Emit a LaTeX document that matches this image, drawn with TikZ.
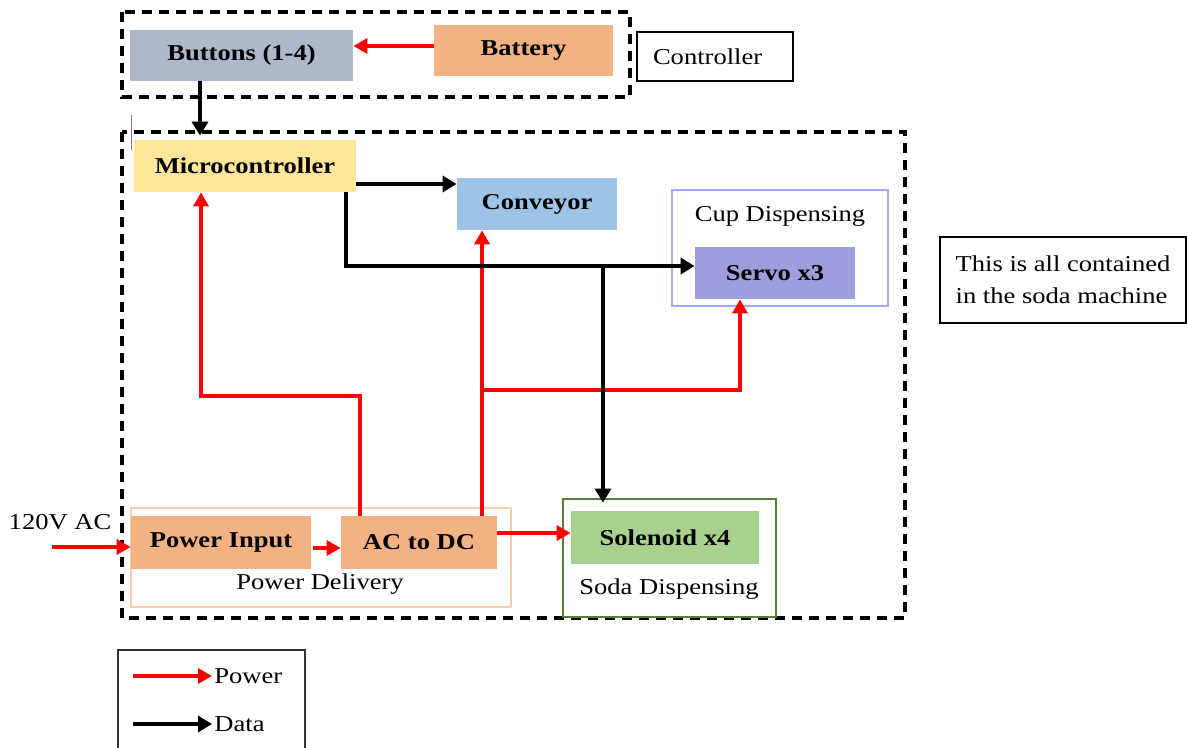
\documentclass[tikz,border=0pt]{standalone}
\usepackage{fontspec}
\setmainfont{Liberation Serif}[FakeStretch=1.17]
\usepackage{xcolor}
\usetikzlibrary{positioning,arrows.meta,calc}
\definecolor{btngray}{HTML}{ADB9CA}
\definecolor{battorange}{HTML}{F4B183}
\definecolor{mcuyellow}{HTML}{FFE699}
\definecolor{convblue}{HTML}{9DC3E6}
\definecolor{servopurple}{HTML}{9E9EDE}
\definecolor{cupline}{HTML}{A8A8F0}
\definecolor{solgreen}{HTML}{A9D18E}
\definecolor{sodaline}{HTML}{548235}
\definecolor{pdline}{HTML}{F8CBAD}

\begin{document}
\begin{tikzpicture}[x=0.5pt, y=-0.5pt, font=\fontsize{11.35}{16}\selectfont,
  blk/.style={font=\fontsize{11.35}{16}\selectfont\bfseries, inner sep=0pt},
  pwr/.style={-{Triangle[length=7pt,width=7.5pt]}, draw=red, line width=2.2pt},
  dat/.style={-{Triangle[length=7pt,width=8pt]}, draw=black, line width=2pt},
  dashbox/.style={draw, line width=1.6pt, dash pattern=on 5pt off 3.5pt},
  lbl/.style={draw, line width=0.9pt}]
\useasboundingbox (0,0) rectangle (1187,748);

% outer frames
\draw[dashbox] (122,12) rectangle (630,97);
\draw[dashbox] (122,132) rectangle (905,618);
\draw[gray, line width=0.5pt] (131,115) -- (131,150);
\draw[cupline, line width=0.7pt] (672,190) rectangle (888,306);
\draw[pdline, line width=0.7pt] (131,508) rectangle (511,607);
\draw[sodaline, line width=0.7pt] (563,499) rectangle (776,617);

% blocks
\node[blk, fill=btngray, minimum width=111.5pt, minimum height=25.5pt] (buttons) at (241.5,55.5) {Buttons (1-4)};
\node[blk, fill=battorange, minimum width=89.5pt, minimum height=25.5pt] (battery) at (523.5,50.5) {Battery};
\node[lbl, minimum height=24.5pt, inner xsep=8pt, text width=62pt, align=left] (ctrl) at (715,56.5) {Controller};
\node[blk, fill=mcuyellow, minimum width=111pt, minimum height=26pt] (micro) at (245,166) {Microcontroller};
\node[blk, fill=convblue, minimum width=80pt, minimum height=26pt] (conveyor) at (537,204) {Conveyor};
\node (cuplbl) at (780,216) {Cup Dispensing};
\node[blk, fill=servopurple, minimum width=80pt, minimum height=26pt] (servo) at (775,273) {Servo x3};
\node[lbl, minimum width=123pt, minimum height=43pt, align=left] (note) at (1063,280) {This is all contained\\in the soda machine};
\node[blk, fill=battorange, minimum width=90pt, minimum height=26.5pt] (powerin) at (221,542.5) {Power Input};
\node[blk, fill=battorange, minimum width=78pt, minimum height=26.5pt] (acdc) at (419,542.5) {AC to DC};
\node (pdlbl) at (320,584) {Power Delivery};
\node[blk, fill=solgreen, minimum width=94pt, minimum height=26.5pt] (solenoid) at (665,537.5) {Solenoid x4};
\node (sodalbl) at (669,589) {Soda Dispensing};
\node (aclbl) at (60,522) {120V AC};

% power lines
\coordinate (acin) at (52,547);
\coordinate (mbend) at (201,396);
\coordinate (psplit) at (482,390);
\draw[pwr] ([yshift=2.25pt]battery.west) -- ([yshift=2.25pt]battery.west -| buttons.east);
\draw[pwr] (acin) -- (acin -| powerin.west);
\draw[pwr, shorten <=1pt] ([yshift=-2.75pt]powerin.east) -- ([yshift=-2.75pt]powerin.east -| acdc.west);
\draw[pwr] ([yshift=4.75pt]acdc.east) -- ([yshift=4.75pt]acdc.east -| solenoid.west);
\draw[pwr] ([xshift=-29.5pt]acdc.north) |- (mbend) -- (mbend |- micro.south);
\draw[pwr] ([xshift=31.5pt]acdc.north) -- ([xshift=31.5pt]acdc.north |- conveyor.south);
\draw[pwr] (psplit) -| ([xshift=-17.5pt]servo.south);

% data lines
\coordinate (dsplit) at (603,266);
\draw[dat, shorten >=2pt] ([xshift=-20.75pt]buttons.south) -- ([xshift=-20.75pt]buttons.south |- micro.north);
\draw[dat] ([yshift=-9pt]micro.east) -- ([yshift=-9pt]micro.east -| conveyor.west);
\draw[dat] ([xshift=-5pt]micro.south east) |- ([yshift=3.5pt]servo.west);
\draw[dat, shorten >=4pt] (dsplit) -- (dsplit |- solenoid.north);

% legend
\draw[line width=1pt, black!80] (118,750) -- (118,650) -- (305,650) -- (305,750);
\coordinate (lp) at (133,676);
\coordinate (ld) at (133,724);
\node[anchor=west, inner sep=1pt] (lpow) at (212,676) {Power};
\node[anchor=west, inner sep=1pt] (ldat) at (212,724) {Data};
\draw[pwr] (lp) -- (lpow.west);
\draw[dat] (ld) -- (ldat.west);
\end{tikzpicture}
\end{document}
